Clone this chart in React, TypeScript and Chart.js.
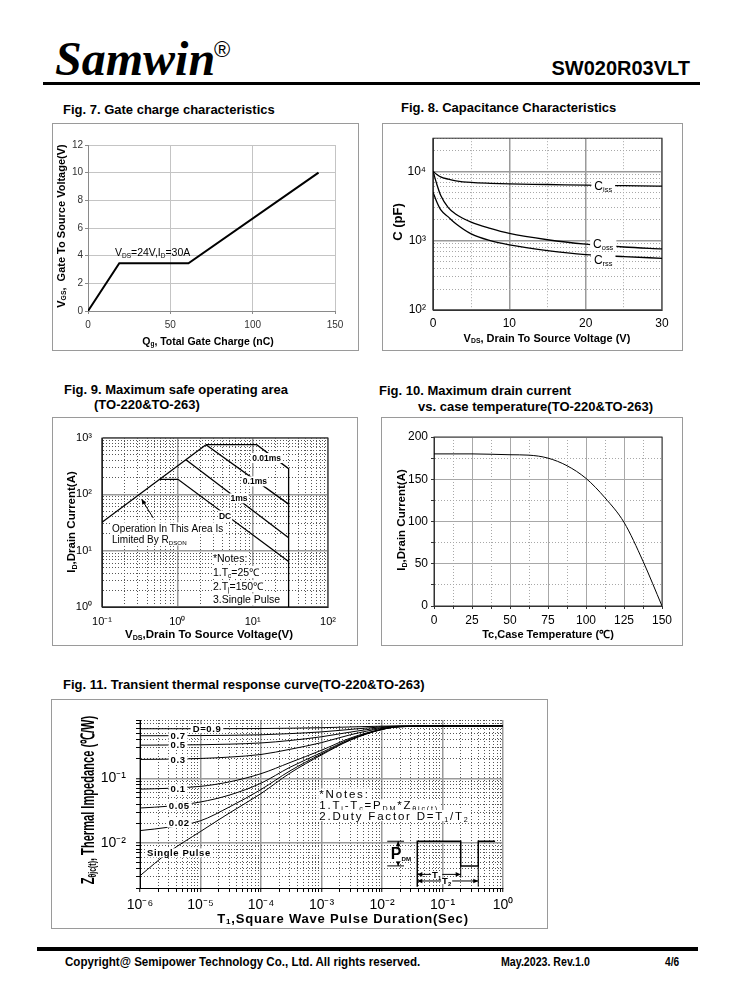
import React, { useEffect, useRef } from 'react';
import { Chart, registerables } from 'chart.js';

Chart.register(...registerables);

const SANS = '"Liberation Sans", Arial, Helvetica, sans-serif';
const SERIF = '"Liberation Serif", "Times New Roman", serif';

// ---------------- Fig. 7 Gate charge ----------------
const gateChargeNC = [0, 19, 61, 140];
const gateVgsV = [0, 3.45, 3.45, 10];
const gateXTicks = [0, 50, 100, 150];
const gateYTicks = [0, 2, 4, 6, 8, 10, 12];

// ---------------- Fig. 8 Capacitance ----------------
const capVds = [0, 0.5, 1, 2, 3, 5, 7.5, 10, 15, 20, 25, 30];
const capCiss = [10000, 9000, 8300, 7700, 7300, 6900, 6700, 6580, 6450, 6300, 6200, 6100];
const capCoss = [10000, 6500, 4500, 3000, 2400, 1850, 1500, 1270, 1030, 890, 810, 760];
const capCrss = [5000, 3600, 2800, 2200, 1750, 1250, 1000, 870, 720, 630, 590, 555];
const capXTicks = [0, 5, 10, 15, 20, 25, 30];
const capXLabeled = [0, 10, 20, 30];
const capYDecades = [100, 1000, 10000];
const capYDecadeLabels = ['10²', '10³', '10⁴'];

// ---------------- Fig. 9 SOA ----------------
const soaRdsonV = [0.1, 2.4];
const soaRdsonI = [32, 760];
const soa10usV = [2.4, 11.3, 30, 30];
const soa10usI = [760, 760, 286, 1];
const soa100usV = [2.4, 30];
const soa100usI = [760, 67];
const soa1msV = [1.3, 30];
const soa1msI = [410, 17];
const soaDcV = [0.58, 1.02, 30];
const soaDcI = [185, 185, 6.4];
const soaXDecades = [0.1, 1, 10, 100];
const soaXDecadeLabels = ['10⁻¹', '10⁰', '10¹', '10²'];
const soaYDecades = [1, 10, 100, 1000];
const soaYDecadeLabels = ['10⁰', '10¹', '10²', '10³'];

// ---------------- Fig. 10 Max drain current ----------------
const tempC = [0, 25, 50, 62.5, 75, 87.5, 100, 112.5, 125, 137.5, 150];
const maxIdA = [180, 180, 179, 178.5, 175, 166, 151, 128, 99, 53, 0];
const tempTicks = [0, 12.5, 25, 37.5, 50, 62.5, 75, 87.5, 100, 112.5, 125, 137.5, 150];
const tempLabeled = [0, 25, 50, 75, 100, 125, 150];
const idTicks = [0, 25, 50, 75, 100, 125, 150, 175, 200];
const idLabeled = [0, 50, 100, 150, 200];

// ---------------- Fig. 11 Transient thermal ----------------
const pulseT = [1e-6, 3e-6, 1e-5, 3e-5, 1e-4, 3e-4, 1e-3, 3e-3, 1e-2, 2e-2, 1e-1, 1];
const zthD09 = [0.585, 0.586, 0.586, 0.588, 0.59, 0.597, 0.608, 0.624, 0.642, 0.648, 0.65, 0.65];
const zthD07 = [0.456, 0.457, 0.459, 0.463, 0.472, 0.492, 0.524, 0.572, 0.626, 0.644, 0.649, 0.65];
const zthD05 = [0.326, 0.328, 0.331, 0.338, 0.353, 0.385, 0.44, 0.52, 0.61, 0.64, 0.648, 0.65];
const zthD03 = [0.196, 0.198, 0.203, 0.213, 0.234, 0.281, 0.357, 0.472, 0.594, 0.636, 0.647, 0.65];
const zthD01 = [0.068, 0.07, 0.075, 0.088, 0.118, 0.175, 0.272, 0.42, 0.578, 0.632, 0.646, 0.65];
const zthD005 = [0.0347, 0.037, 0.043, 0.055, 0.084, 0.148, 0.25, 0.405, 0.574, 0.631, 0.645, 0.65];
const zthD002 = [0.0155, 0.0175, 0.022, 0.036, 0.067, 0.13, 0.238, 0.395, 0.572, 0.63, 0.645, 0.65];
const zthSingle = [0.0031, 0.0072, 0.015, 0.029, 0.058, 0.12, 0.23, 0.39, 0.57, 0.63, 0.645, 0.65];
const zthXDecades = [1e-6, 1e-5, 1e-4, 1e-3, 1e-2, 1e-1, 1];
const zthXDecadeLabels = ['10⁻⁶', '10⁻⁵', '10⁻⁴', '10⁻³', '10⁻²', '10⁻¹', '10⁰'];
const zthYDecades = [0.01, 0.1];
const zthYDecadeLabels = ['10⁻²', '10⁻¹'];

// ---------------- layout (page px) ----------------
type Geom = { l: number; t: number; w: number; h: number; pl: number; pt: number; pr: number; pb: number };
const G7: Geom = { l: 53, t: 124, w: 305, h: 226, pl: 88, pt: 145, pr: 335, pb: 311 };
const G8: Geom = { l: 383, t: 124, w: 299, h: 226, pl: 433, pt: 138, pr: 662, pb: 310 };
const G9: Geom = { l: 53, t: 418, w: 304, h: 227, pl: 102, pt: 438, pr: 328, pb: 607 };
const G10: Geom = { l: 382, t: 418, w: 300, h: 227, pl: 434, pt: 437, pr: 662, pb: 606 };
const G11: Geom = { l: 52, t: 700, w: 495, h: 228, pl: 140, pt: 720, pr: 503, pb: 888 };

// ---------------- helpers ----------------
const near = (list: number[], v: number) => list.findIndex((d) => Math.abs(v - d) <= Math.abs(d) * 1e-6 + 1e-12);
const labelsFrom = (vals: number[], texts: string[]) => (v: number) => {
  const i = near(vals, v);
  return i >= 0 ? texts[i] : '';
};
function logGrid(lo: number, hi: number) {
  const out: number[] = [];
  const e0 = Math.floor(Math.log10(lo));
  const e1 = Math.floor(Math.log10(hi));
  for (let e = e0; e <= e1; e++) {
    for (let m = 1; m <= 9; m++) {
      const v = parseFloat((m * Math.pow(10, e)).toPrecision(6));
      if (v >= lo * 0.999999 && v <= hi * 1.000001) out.push(v);
    }
  }
  return out;
}

type AxisOpts = {
  axis: 'x' | 'y'; type: 'linear' | 'logarithmic'; min: number; max: number;
  values: number[]; majors: number[]; labels: (v: number) => string;
  size: number; fontSize: number; pad: number; tickLen: number;
  major: string; minor: string; majorW: number; dash: number[]; border: string; color?: string;
};
function axisScale(o: AxisOpts) {
  const isMaj = (v: number) => near(o.majors, v) >= 0;
  return {
    type: o.type,
    min: o.min,
    max: o.max,
    position: o.axis === 'x' ? 'bottom' : 'left',
    afterBuildTicks: (s: any) => {
      s.ticks = o.values.map((v) => ({ value: v }));
    },
    afterFit: (s: any) => {
      if (o.axis === 'x') s.height = o.size;
      else s.width = o.size;
    },
    ticks: {
      autoSkip: false, maxRotation: 0, minRotation: 0, padding: o.pad,
      color: o.color ?? '#000', font: { family: SANS, size: o.fontSize },
      callback: (v: any) => o.labels(Number(v)),
    },
    grid: {
      color: (c: any) => (c.tick && !isMaj(c.tick.value) ? o.minor : o.major),
      lineWidth: (c: any) => (c.tick && !isMaj(c.tick.value) ? 1 : o.majorW),
      drawTicks: o.tickLen > 0, tickLength: o.tickLen, tickColor: o.border, tickWidth: 1,
    },
    border: {
      display: true, color: o.border, width: 1,
      dash: (c: any) => (c.tick && !isMaj(c.tick.value) ? o.dash : []),
    },
  };
}

type Part = { t: string; sub?: boolean; k?: number };
type Note = {
  x: number; y: number; parts: Part[]; size: number; bold?: boolean;
  align?: 'left' | 'center'; bg?: boolean; spacing?: number; padX?: number; padY?: number;
};
type Path = { pts: [number, number][]; width?: number; arrowEnd?: boolean };

function arrowHead(ctx: any, from: number[], to: number[]) {
  const a = Math.atan2(to[1] - from[1], to[0] - from[0]);
  const len = 5, half = 2.3;
  ctx.beginPath();
  ctx.moveTo(to[0], to[1]);
  ctx.lineTo(to[0] - len * Math.cos(a) + half * Math.sin(a), to[1] - len * Math.sin(a) - half * Math.cos(a));
  ctx.lineTo(to[0] - len * Math.cos(a) - half * Math.sin(a), to[1] - len * Math.sin(a) + half * Math.cos(a));
  ctx.closePath();
  ctx.fillStyle = '#000';
  ctx.fill();
}

function drawNote(ctx: any, n: Note, px: number, py: number) {
  const fontFor = (p: Part) => `${n.bold ? 'bold ' : ''}${(p.sub ? n.size * 0.62 : n.size * (p.k ?? 1)).toFixed(2)}px ${SANS}`;
  ctx.letterSpacing = `${n.spacing ?? 0}px`;
  let w = 0;
  const widths = n.parts.map((p) => {
    ctx.font = fontFor(p);
    const m = ctx.measureText(p.t).width;
    w += m;
    return m;
  });
  let x = n.align === 'center' ? px - w / 2 : px;
  if (n.bg) {
    const padX = n.padX ?? 2;
    const padY = n.padY ?? n.size * 0.6;
    ctx.fillStyle = '#fff';
    ctx.fillRect(x - padX, py - padY, w + 2 * padX, 2 * padY);
  }
  ctx.fillStyle = '#000';
  ctx.textAlign = 'left';
  ctx.textBaseline = 'alphabetic';
  const base = py + n.size * 0.36;
  n.parts.forEach((p, i) => {
    ctx.font = fontFor(p);
    ctx.fillText(p.t, x, p.sub ? base + n.size * 0.2 : base);
    x += widths[i];
  });
  ctx.letterSpacing = '0px';
}

function annotPlugin(notes: Note[], paths: Path[]) {
  return {
    id: 'annot',
    afterDatasetsDraw(chart: any) {
      const { ctx, scales } = chart;
      const xs = scales.x;
      const ys = scales.y;
      ctx.save();
      ctx.setLineDash([]);
      for (const p of paths) {
        const px = p.pts.map(([x, y]) => [xs.getPixelForValue(x), ys.getPixelForValue(y)]);
        ctx.strokeStyle = '#000';
        ctx.lineWidth = p.width ?? 1;
        ctx.beginPath();
        px.forEach(([a, b], i) => (i ? ctx.lineTo(a, b) : ctx.moveTo(a, b)));
        ctx.stroke();
        if (p.arrowEnd) arrowHead(ctx, px[px.length - 2], px[px.length - 1]);
      }
      for (const n of notes) drawNote(ctx, n, xs.getPixelForValue(n.x), ys.getPixelForValue(n.y));
      ctx.restore();
    },
  };
}

function framePlugin(color: string, width: number) {
  return {
    id: 'frame',
    beforeDatasetsDraw(chart: any) {
      const { ctx, chartArea: a } = chart;
      ctx.save();
      ctx.setLineDash([]);
      ctx.strokeStyle = color;
      ctx.lineWidth = width;
      ctx.strokeRect(a.left, a.top, a.right - a.left, a.bottom - a.top);
      ctx.restore();
    },
  };
}

function series(xs: number[], ys: number[], width: number, smooth: boolean) {
  return {
    data: xs.map((x, i) => ({ x, y: ys[i] })),
    borderColor: '#000',
    borderWidth: width,
    pointRadius: 0,
    fill: false,
    tension: 0,
    cubicInterpolationMode: smooth ? 'monotone' : 'default',
  };
}

function makeConfig(g: Geom, datasets: any[], x: any, y: any, plugins: any[]) {
  return {
    type: 'line',
    data: { datasets },
    options: {
      responsive: false,
      animation: false,
      events: [],
      layout: { padding: { top: g.pt - g.t, right: g.l + g.w - g.pr, left: 0, bottom: 0 } },
      plugins: { legend: { display: false }, tooltip: { enabled: false }, title: { display: false } },
      scales: { x, y },
    },
    plugins,
  };
}

// ---------------- chart configs ----------------
function fig7Config() {
  const g = G7;
  const x = axisScale({
    axis: 'x', type: 'linear', min: 0, max: 150, values: gateXTicks, majors: gateXTicks,
    labels: (v) => String(v), size: g.t + g.h - g.pb, fontSize: 10, pad: 5, tickLen: 3,
    major: '#c4c4c4', minor: '#c4c4c4', majorW: 1, dash: [], border: '#8a8a8a', color: '#333',
  });
  const y = axisScale({
    axis: 'y', type: 'linear', min: 0, max: 12, values: gateYTicks, majors: gateYTicks,
    labels: (v) => String(v), size: g.pl - g.l, fontSize: 10, pad: 2, tickLen: 3,
    major: '#c4c4c4', minor: '#c4c4c4', majorW: 1, dash: [], border: '#8a8a8a', color: '#333',
  });
  const notes: Note[] = [
    { x: 16.4, y: 4.27, size: 10.5, parts: [{ t: 'V' }, { t: 'DS', sub: true }, { t: '=24V,I' }, { t: 'D', sub: true }, { t: '=30A' }] },
  ];
  return makeConfig(g, [series(gateChargeNC, gateVgsV, 2, false)], x, y, [annotPlugin(notes, [])]);
}

function fig8Config() {
  const g = G8;
  const x = axisScale({
    axis: 'x', type: 'linear', min: 0, max: 30, values: capXTicks, majors: capXLabeled,
    labels: (v) => (near(capXLabeled, v) >= 0 ? String(v) : ''), size: g.t + g.h - g.pb, fontSize: 12, pad: 6, tickLen: 0,
    major: '#9a9a9a', minor: '#a8a8a8', majorW: 1.5, dash: [1, 2], border: '#333',
  });
  const y = axisScale({
    axis: 'y', type: 'logarithmic', min: 100, max: 30000, values: logGrid(100, 30000), majors: capYDecades,
    labels: labelsFrom(capYDecades, capYDecadeLabels), size: g.pl - g.l, fontSize: 12, pad: 7, tickLen: 0,
    major: '#9a9a9a', minor: '#a8a8a8', majorW: 1.5, dash: [1, 2], border: '#333',
  });
  const notes: Note[] = [
    { x: 22.3, y: 6300, size: 12, align: 'center', bg: true, padX: 3, padY: 6, parts: [{ t: 'C' }, { t: 'iss', sub: true }] },
    { x: 22.3, y: 905, size: 12, align: 'center', bg: true, padX: 3, padY: 6, parts: [{ t: 'C' }, { t: 'oss', sub: true }] },
    { x: 22.3, y: 533, size: 12, align: 'center', bg: true, padX: 3, padY: 6, parts: [{ t: 'C' }, { t: 'rss', sub: true }] },
  ];
  return makeConfig(
    g,
    [series(capVds, capCiss, 1.3, true), series(capVds, capCoss, 1.3, true), series(capVds, capCrss, 1.3, true)],
    x, y, [framePlugin('#333', 1), annotPlugin(notes, [])],
  );
}

function fig9Config() {
  const g = G9;
  const x = axisScale({
    axis: 'x', type: 'logarithmic', min: 0.1, max: 100, values: logGrid(0.1, 100), majors: soaXDecades,
    labels: labelsFrom(soaXDecades, soaXDecadeLabels), size: g.t + g.h - g.pb, fontSize: 11, pad: 8, tickLen: 0,
    major: '#9a9a9a', minor: '#555', majorW: 1.5, dash: [1, 2], border: '#222',
  });
  const y = axisScale({
    axis: 'y', type: 'logarithmic', min: 1, max: 1000, values: logGrid(1, 1000), majors: soaYDecades,
    labels: labelsFrom(soaYDecades, soaYDecadeLabels), size: g.pl - g.l, fontSize: 11, pad: 10, tickLen: 0,
    major: '#9a9a9a', minor: '#555', majorW: 1.5, dash: [1, 2], border: '#222',
  });
  const lbl = (x: number, y: number, t: string): Note => ({ x, y, size: 8.5, bold: true, align: 'center', bg: true, padX: 1, padY: 5, parts: [{ t }] });
  const txt = (x: number, y: number, parts: Part[]): Note => ({ x, y, size: 10.5, bg: true, padX: 1, padY: 6, parts });
  const notes: Note[] = [
    lbl(15.3, 441, '0.01ms'),
    lbl(10.7, 170, '0.1ms'),
    lbl(6.6, 85, '1ms'),
    lbl(4.3, 42, 'DC'),
    { x: 0.136, y: 24.9, size: 10, bg: true, padX: 1, padY: 6, parts: [{ t: 'Operation In This Area Is' }] },
    { x: 0.136, y: 15.8, size: 10, bg: true, padX: 1, padY: 6, parts: [{ t: 'Limited By R' }, { t: 'DSON', sub: true }] },
    txt(2.97, 7.4, [{ t: '*Notes:' }]),
    txt(2.97, 4.17, [{ t: '1.T' }, { t: 'c', sub: true }, { t: '=25℃' }]),
    txt(2.97, 2.35, [{ t: '2.T' }, { t: 'j', sub: true }, { t: '=150℃' }]),
    txt(2.97, 1.36, [{ t: '3.Single Pulse' }]),
  ];
  const paths: Path[] = [{ pts: [[0.48, 38], [0.336, 81.5]], width: 1, arrowEnd: true }];
  return makeConfig(
    g,
    [
      series(soaRdsonV, soaRdsonI, 1.3, false),
      series(soa10usV, soa10usI, 1.3, false),
      series(soa100usV, soa100usI, 1.3, false),
      series(soa1msV, soa1msI, 1.3, false),
      series(soaDcV, soaDcI, 1.3, false),
    ],
    x, y, [framePlugin('#222', 1), annotPlugin(notes, paths)],
  );
}

function fig10Config() {
  const g = G10;
  const x = axisScale({
    axis: 'x', type: 'linear', min: 0, max: 150, values: tempTicks, majors: tempLabeled,
    labels: (v) => (near(tempLabeled, v) >= 0 ? String(v) : ''), size: g.t + g.h - g.pb, fontSize: 12, pad: 4, tickLen: 3,
    major: '#a8a8a8', minor: '#a8a8a8', majorW: 1, dash: [1, 2], border: '#333',
  });
  const y = axisScale({
    axis: 'y', type: 'linear', min: 0, max: 200, values: idTicks, majors: idLabeled,
    labels: (v) => (near(idLabeled, v) >= 0 ? String(v) : ''), size: g.pl - g.l, fontSize: 12, pad: 3, tickLen: 3,
    major: '#a8a8a8', minor: '#a8a8a8', majorW: 1, dash: [1, 2], border: '#333',
  });
  return makeConfig(g, [series(tempC, maxIdA, 1, true)], x, y, [framePlugin('#333', 1)]);
}

function fig11Config() {
  const g = G11;
  const x = axisScale({
    axis: 'x', type: 'logarithmic', min: 1e-6, max: 1, values: logGrid(1e-6, 1), majors: zthXDecades,
    labels: labelsFrom(zthXDecades, zthXDecadeLabels), size: g.t + g.h - g.pb, fontSize: 14, pad: 5, tickLen: 4,
    major: '#9a9a9a', minor: '#555', majorW: 1.5, dash: [1, 2], border: '#000',
  });
  const y = axisScale({
    axis: 'y', type: 'logarithmic', min: 0.002, max: 0.8, values: logGrid(0.002, 0.8), majors: zthYDecades,
    labels: labelsFrom(zthYDecades, zthYDecadeLabels), size: g.pl - g.l, fontSize: 14, pad: 10, tickLen: 4,
    major: '#9a9a9a', minor: '#555', majorW: 1.5, dash: [1, 2], border: '#000',
  });
  const dl = (x: number, y: number, t: string): Note => ({ x, y, size: 9.5, bold: true, align: 'center', bg: true, spacing: 0.6, padX: 2, padY: 4.5, parts: [{ t }] });
  const nt = (y: number, parts: Part[]): Note => ({ x: 9.2e-4, y, size: 11.5, spacing: 1.8, bg: true, padX: 1, padY: 5.5, parts });
  const notes: Note[] = [
    dl(1.28e-5, 0.586, 'D=0.9'),
    dl(4.25e-6, 0.457, '0.7'),
    dl(4.25e-6, 0.328, '0.5'),
    dl(4.25e-6, 0.198, '0.3'),
    dl(4.25e-6, 0.069, '0.1'),
    dl(4.46e-6, 0.0375, '0.05'),
    dl(4.46e-6, 0.0203, '0.02'),
    dl(4.4e-6, 0.007, 'Single Pulse'),
    nt(0.0573, [{ t: '*Notes:' }]),
    nt(0.0388, [{ t: '1.T' }, { t: 'j', sub: true }, { t: '-T' }, { t: 'c', sub: true }, { t: '=P' }, { t: 'DM', sub: true }, { t: '*Z' }, { t: 'θjc(t)', sub: true }]),
    nt(0.0265, [{ t: '2.Duty Factor D=T' }, { t: '1', sub: true }, { t: '/T' }, { t: '2', sub: true }]),
    { x: 0.0206, y: 0.0064, size: 10, bold: true, align: 'center', bg: true, padX: 1, padY: 6, parts: [{ t: 'P', k: 1.6 }, { t: 'DM', sub: true }] },
    { x: 0.08, y: 0.00325, size: 9.5, bold: true, align: 'center', bg: true, padX: 1, padY: 3, parts: [{ t: 'T' }, { t: '1', sub: true }] },
    { x: 0.117, y: 0.00257, size: 9.5, bold: true, align: 'center', bg: true, padX: 1, padY: 3, parts: [{ t: 'T' }, { t: '2', sub: true }] },
  ];
  const paths: Path[] = [
    { pts: [[0.0122, 0.0106], [0.0231, 0.0106]] },
    { pts: [[0.0122, 0.0044], [0.0231, 0.0044]] },
    { pts: [[0.0185, 0.0075], [0.0185, 0.0106]], arrowEnd: true },
    { pts: [[0.0185, 0.0062], [0.0185, 0.0044]], arrowEnd: true },
    { pts: [[0.0383, 0.0021], [0.0383, 0.0106], [0.2, 0.0106], [0.2, 0.0044], [0.39, 0.0044], [0.39, 0.0106], [0.74, 0.0106]], width: 1.5 },
    { pts: [[0.2, 0.0044], [0.2, 0.0029]] },
    { pts: [[0.39, 0.0044], [0.39, 0.0021]] },
    { pts: [[0.08, 0.00325], [0.0383, 0.00325]], arrowEnd: true },
    { pts: [[0.08, 0.00325], [0.2, 0.00325]], arrowEnd: true },
    { pts: [[0.117, 0.00257], [0.0383, 0.00257]], arrowEnd: true },
    { pts: [[0.117, 0.00257], [0.39, 0.00257]], arrowEnd: true },
  ];
  return makeConfig(
    g,
    [
      series(pulseT, zthD09, 1, true),
      series(pulseT, zthD07, 1, true),
      series(pulseT, zthD05, 1, true),
      series(pulseT, zthD03, 1, true),
      series(pulseT, zthD01, 1, true),
      series(pulseT, zthD005, 1, true),
      series(pulseT, zthD002, 1, true),
      series(pulseT, zthSingle, 1, true),
    ],
    x, y, [annotPlugin(notes, paths)],
  );
}

// ---------------- components ----------------
function ChartBox({ g, config }: { g: Geom; config: () => any }) {
  const ref = useRef<HTMLCanvasElement>(null);
  useEffect(() => {
    const chart = new Chart(ref.current as HTMLCanvasElement, config());
    return () => chart.destroy();
  }, []);
  return (
    <>
      <canvas ref={ref} width={g.w} height={g.h} style={{ position: 'absolute', left: g.l, top: g.t, width: g.w, height: g.h }} />
      <div style={{ position: 'absolute', left: g.l - 1, top: g.t - 1, width: g.w, height: g.h, border: '1px solid #9a9a9a', pointerEvents: 'none' }} />
    </>
  );
}

type TProps = {
  x: number; y: number; size: number; bold?: boolean; anchor?: 'left' | 'center' | 'right';
  rotate?: boolean; sx?: number; spacing?: number; family?: string; italic?: boolean; children: React.ReactNode;
};
function T({ x, y, size, bold, anchor = 'left', rotate, sx = 1, spacing = 0, family = SANS, italic, children }: TProps) {
  const tx = anchor === 'left' ? '0' : anchor === 'center' ? '-50%' : '-100%';
  const transform = rotate
    ? `translate(-50%,-50%) rotate(-90deg) scaleX(${sx})`
    : `translate(${tx},-50%) scaleX(${sx})`;
  const origin = rotate ? 'center center' : anchor === 'left' ? 'left center' : anchor === 'center' ? 'center center' : 'right center';
  return (
    <div
      style={{
        position: 'absolute', left: x, top: y, transform, transformOrigin: origin,
        fontFamily: family, fontSize: size, fontWeight: bold ? 'bold' : 'normal', fontStyle: italic ? 'italic' : 'normal',
        letterSpacing: spacing, whiteSpace: 'nowrap', lineHeight: 1, color: '#000',
      }}
    >
      {children}
    </div>
  );
}

const Sub = ({ children }: { children: React.ReactNode }) => (
  <span style={{ fontSize: '0.62em', verticalAlign: '-0.2em', lineHeight: 0 }}>{children}</span>
);

export default function App() {
  return (
    <div style={{ position: 'absolute', left: 0, top: 0, width: 738, height: 1000, background: '#fff', overflow: 'hidden' }}>
      {/* header */}
      <T x={55} y={59} size={48} bold italic family={SERIF}>Samwin</T>
      <T x={214} y={50} size={22}>®</T>
      <T x={690} y={68} size={20} bold anchor="right">SW020R03VLT</T>
      <div style={{ position: 'absolute', left: 43, top: 82, width: 657, height: 3, background: '#000' }} />

      {/* Fig 7 */}
      <T x={63} y={109} size={13} bold>Fig. 7. Gate charge characteristics</T>
      <ChartBox g={G7} config={fig7Config} />
      <T x={61} y={226} size={11} bold rotate>V<Sub>GS</Sub>,&nbsp; Gate To Source Voltage(V)</T>
      <T x={208} y={341} size={10.5} bold anchor="center">Q<Sub>g</Sub>, Total Gate Charge (nC)</T>

      {/* Fig 8 */}
      <T x={401} y={107} size={13} bold>Fig. 8. Capacitance Characteristics</T>
      <ChartBox g={G8} config={fig8Config} />
      <T x={397} y={222} size={13} bold rotate>C (pF)</T>
      <T x={547} y={338} size={11} bold anchor="center">V<Sub>DS</Sub>, Drain To Source Voltage (V)</T>

      {/* Fig 9 */}
      <T x={64} y={389} size={13} bold>Fig. 9. Maximum safe operating area</T>
      <T x={94} y={404} size={13} bold>(TO-220&amp;TO-263)</T>
      <ChartBox g={G9} config={fig9Config} />
      <T x={72} y={522} size={11.5} bold rotate>I<Sub>D</Sub>,Drain Current(A)</T>
      <T x={209} y={635} size={11.5} bold anchor="center">V<Sub>DS</Sub>,Drain To Source Voltage(V)</T>

      {/* Fig 10 */}
      <T x={379} y={390} size={13} bold>Fig. 10. Maximum drain current</T>
      <T x={418} y={406} size={13} bold>vs. case temperature(TO-220&amp;TO-263)</T>
      <ChartBox g={G10} config={fig10Config} />
      <T x={402} y={520} size={11.5} bold rotate>I<Sub>D</Sub>,Drain Current(A)</T>
      <T x={548} y={634} size={11} bold anchor="center">Tc,Case Temperature (℃)</T>

      {/* Fig 11 */}
      <T x={63} y={684} size={13} bold>Fig. 11. Transient thermal response curve(TO-220&amp;TO-263)</T>
      <ChartBox g={G11} config={fig11Config} />
      <T x={88} y={800} size={18.5} bold rotate sx={0.6}>Z<Sub>θjc(t)</Sub>, Thermal Impedance (℃/W)</T>
      <T x={343} y={918} size={13} bold anchor="center" spacing={0.8}>T<Sub>1</Sub>,Square Wave Pulse Duration(Sec)</T>

      {/* footer */}
      <div style={{ position: 'absolute', left: 37, top: 947, width: 661, height: 4, background: '#000' }} />
      <T x={65} y={961} size={13} bold sx={0.89}>Copyright@ Semipower Technology Co., Ltd. All rights reserved.</T>
      <T x={501} y={962} size={12.5} bold sx={0.85}>May.2023. Rev.1.0</T>
      <T x={665} y={962} size={12} bold sx={0.85}>4/6</T>
    </div>
  );
}
